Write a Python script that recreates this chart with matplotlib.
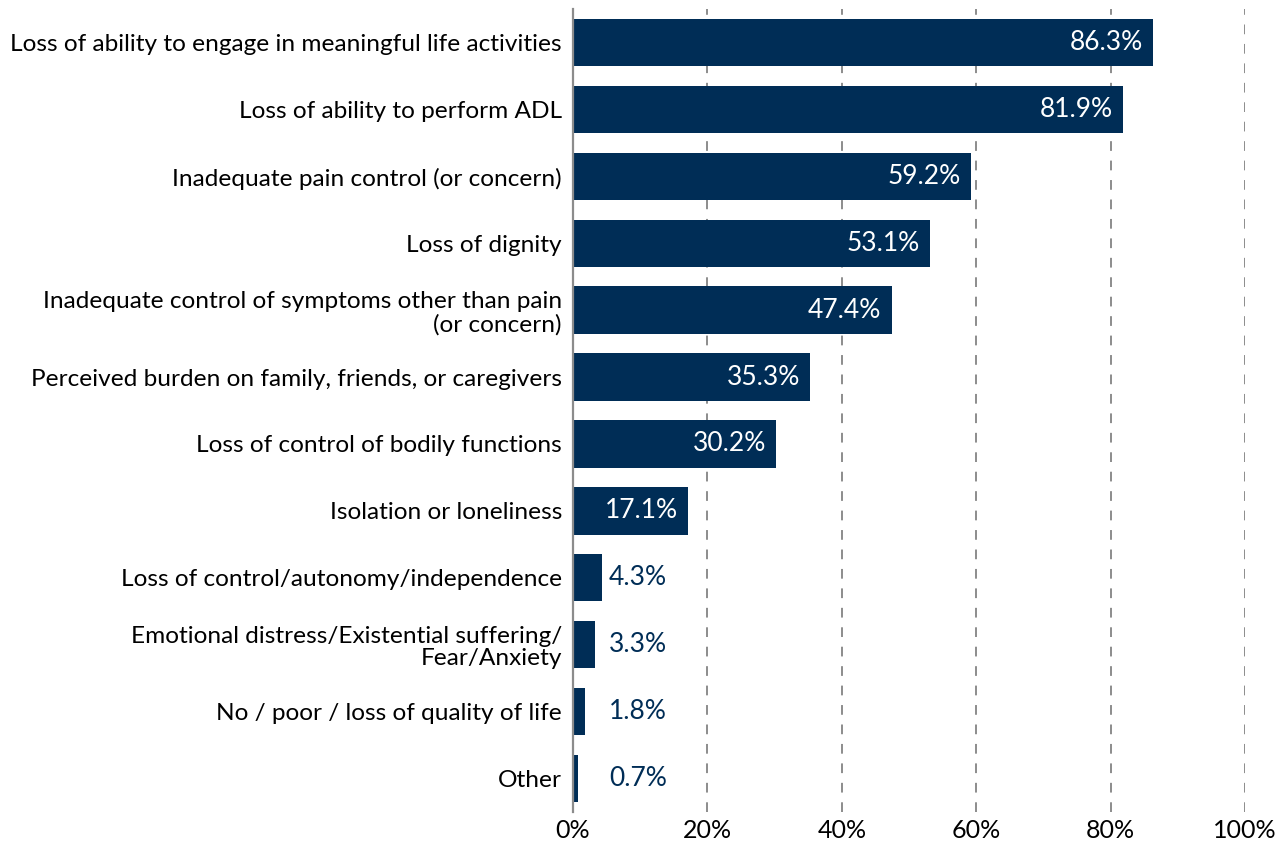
import matplotlib
matplotlib.use("Agg")
import matplotlib.pyplot as plt

plt.rcParams['font.family'] = ['Lato', 'DejaVu Sans']

NAVY = '#002d56'

categories = [
    "Loss of ability to engage in meaningful life activities",
    "Loss of ability to perform ADL",
    "Inadequate pain control (or concern)",
    "Loss of dignity",
    "Inadequate control of symptoms other than pain\n(or concern)",
    "Perceived burden on family, friends, or caregivers",
    "Loss of control of bodily functions",
    "Isolation or loneliness",
    "Loss of control/autonomy/independence",
    "Emotional distress/Existential suffering/\nFear/Anxiety",
    "No / poor / loss of quality of life",
    "Other",
]
values = [86.3, 81.9, 59.2, 53.1, 47.4, 35.3, 30.2, 17.1, 4.3, 3.3, 1.8, 0.7]
xticks = [0, 20, 40, 60, 80, 100]

fig = plt.figure(figsize=(12.77, 8.43), dpi=100)
ax = fig.add_axes([0.4487, 0.037, 0.5263, 0.952])

ypos = list(range(len(values)))
ax.barh(ypos, values, height=0.71, color=NAVY, zorder=3)

for y, v in zip(ypos, values):
    label = f"{v:.1f}%"
    if v > 10:
        ax.text(v - 1.5, y, label, ha='right', va='center', color='white',
                fontsize=19, zorder=4)
    else:
        ax.text(9.7, y, label, ha='center', va='center', color=NAVY,
                fontsize=19, zorder=4)

ax.set_xlim(0, 100)
ax.set_ylim(len(values) - 0.5, -0.5)
ax.set_yticks(ypos)
ax.set_yticklabels(categories, fontsize=17.6, linespacing=1.1)
ax.set_xticks(xticks)
ax.set_xticklabels([f"{t}%" for t in xticks], fontsize=18)
ax.tick_params(axis='both', length=0)
ax.tick_params(axis='y', pad=8)
ax.tick_params(axis='x', pad=5)

for t in xticks[1:]:
    ax.axvline(t, color='#8c8c8c', linestyle=(0, (5, 5)), linewidth=1.4, zorder=1)

for side in ['top', 'right', 'bottom']:
    ax.spines[side].set_visible(False)
ax.spines['left'].set_color('#8c8c8c')
ax.spines['left'].set_linewidth(1.6)
ax.spines['left'].set_zorder(5)

fig.savefig("out.png", dpi=100)
